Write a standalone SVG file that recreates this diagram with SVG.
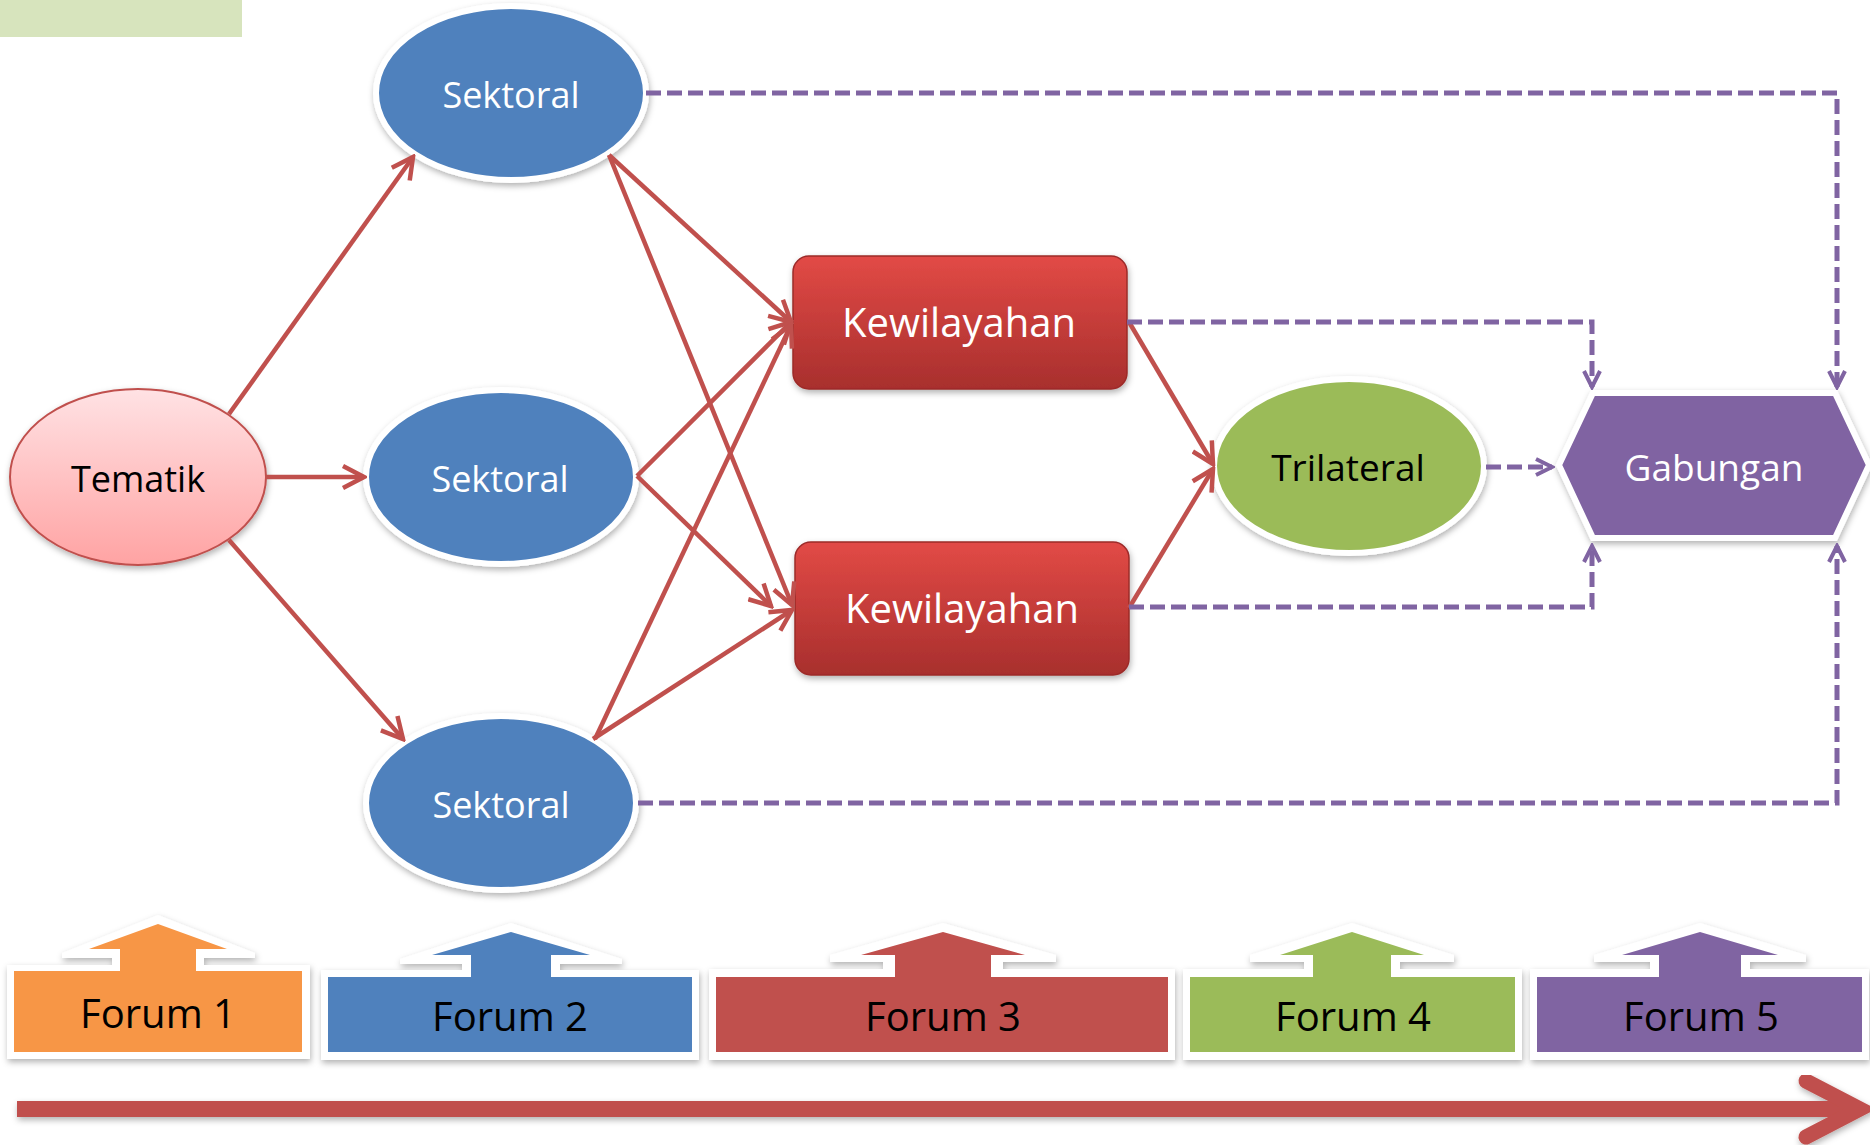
<svg xmlns="http://www.w3.org/2000/svg" width="1870" height="1145" viewBox="0 0 1870 1145">
<style>
.lbl{font-family:"Open Sans","Noto Sans","Liberation Sans",sans-serif;text-anchor:middle}
.w{fill:#ffffff}
.k{fill:#000000}
.red{fill:none;stroke:#c0504d;stroke-width:4.5;marker-end:url(#ar)}
.pur{fill:none;stroke:#8064a2;stroke-width:5;stroke-dasharray:15 6;marker-end:url(#ap)}
.sek{fill:#4f81bd;stroke:#ffffff;stroke-width:6;filter:url(#sh)}
.outline{fill:#ffffff;filter:url(#sh)}
</style>
<defs>
<filter id="sh" x="-10%" y="-10%" width="120%" height="130%">
<feDropShadow dx="1" dy="3" stdDeviation="3" flood-color="#000000" flood-opacity="0.3"/>
</filter>
<linearGradient id="gPink" x1="0" y1="0" x2="0" y2="1">
<stop offset="0" stop-color="#ffe2e4"/>
<stop offset="1" stop-color="#ffa3a3"/>
</linearGradient>
<linearGradient id="gRed" x1="0" y1="0" x2="0" y2="1">
<stop offset="0" stop-color="#e24a46"/>
<stop offset="1" stop-color="#a82f2d"/>
</linearGradient>
<marker id="ar" viewBox="-3 -3 27 27" refX="21" refY="11" markerWidth="27" markerHeight="27" markerUnits="userSpaceOnUse" orient="auto">
<path d="M0,0 L21,11 L0,22" fill="none" stroke="#c0504d" stroke-width="4.5"/>
</marker>
<marker id="ap" viewBox="-3 -3 22 22" refX="16" refY="8" markerWidth="22" markerHeight="22" markerUnits="userSpaceOnUse" orient="auto">
<path d="M0,0 L16,8 L0,16" fill="none" stroke="#8064a2" stroke-width="4"/>
</marker>
</defs>

<rect id="corner" x="0" y="0" width="242" height="37" fill="#d7e4bd"/>

<g id="tematik">
<ellipse cx="138" cy="477" rx="128" ry="88" fill="url(#gPink)" stroke="#c0504d" stroke-width="2" filter="url(#sh)"/>
<text class="lbl k" x="138" y="492" font-size="36">Tematik</text>
</g>

<g id="sektoral1">
<ellipse class="sek" cx="511" cy="93" rx="135" ry="87"/>
<text class="lbl w" x="511" y="108" font-size="36">Sektoral</text>
</g>
<g id="sektoral2">
<ellipse class="sek" cx="501" cy="477" rx="135" ry="87"/>
<text class="lbl w" x="500" y="492" font-size="36">Sektoral</text>
</g>
<g id="sektoral3">
<ellipse class="sek" cx="501" cy="803" rx="135" ry="87"/>
<text class="lbl w" x="501" y="818" font-size="36">Sektoral</text>
</g>

<g id="kewilayahan1">
<rect x="793" y="256" width="334" height="133" rx="16" fill="url(#gRed)" stroke="#9c2b29" stroke-width="1.5" filter="url(#sh)"/>
<text class="lbl w" x="959" y="337" font-size="40">Kewilayahan</text>
</g>
<g id="kewilayahan2">
<rect x="795" y="542" width="334" height="133" rx="16" fill="url(#gRed)" stroke="#9c2b29" stroke-width="1.5" filter="url(#sh)"/>
<text class="lbl w" x="962" y="623" font-size="40">Kewilayahan</text>
</g>

<g id="trilateral">
<ellipse cx="1349" cy="466" rx="135" ry="87" fill="#9bbb59" stroke="#ffffff" stroke-width="6" filter="url(#sh)"/>
<text class="lbl k" x="1348" y="481" font-size="37">Trilateral</text>
</g>

<g id="gabungan">
<polygon points="1559,465 1593,393 1835,393 1869,465 1835,538 1593,538" fill="#8064a2" stroke="#ffffff" stroke-width="6" stroke-linejoin="miter" filter="url(#sh)"/>
<text class="lbl w" x="1714" y="481" font-size="37">Gabungan</text>
</g>

<g id="connectors">
<line class="red" x1="229" y1="414" x2="413" y2="157"/>
<line class="red" x1="266" y1="477" x2="364" y2="477"/>
<line class="red" x1="229" y1="540" x2="403" y2="739"/>
<line class="red" x1="609" y1="155" x2="791" y2="322"/>
<line class="red" x1="609" y1="155" x2="792" y2="605"/>
<line class="red" x1="637" y1="476" x2="791" y2="322"/>
<line class="red" x1="637" y1="476" x2="771" y2="606"/>
<line class="red" x1="595" y1="739" x2="791" y2="325"/>
<line class="red" x1="593" y1="739" x2="792" y2="610"/>
<line class="red" x1="1129" y1="322" x2="1213" y2="464"/>
<line class="red" x1="1129" y1="608" x2="1213" y2="469"/>
<polyline class="pur" points="646,93 1837,93 1837,387"/>
<polyline class="pur" points="1127,322 1592,322 1592,387"/>
<line class="pur" x1="1486" y1="467" x2="1552" y2="467"/>
<polyline class="pur" points="1129,607 1592,607 1592,546"/>
<polyline class="pur" points="638,803 1837,803 1837,546"/>
</g>

<g id="forum1">
<polygon class="outline" points="158,915 255,953 255,958 204,958 204,965 310,965 310,1059 7,1059 7,965 112,965 112,958 62,958 62,953"/>
<polygon fill="#f79646" points="14,971 120,971 120,949 89,949 158,924 227,949 196,949 196,971 302,971 302,1052 14,1052"/>
<text class="lbl k" x="158" y="1028" font-size="40">Forum 1</text>
</g>
<g id="forum2">
<polygon class="outline" points="511,923 622,959 622,964 560,964 560,970 699,970 699,1060 321,1060 321,970 462,970 462,964 400,964 400,959"/>
<polygon fill="#4f81bd" points="328,977 471,977 471,955 432,955 511,932 590,955 551,955 551,977 692,977 692,1052 328,1052"/>
<text class="lbl k" x="510" y="1031" font-size="40">Forum 2</text>
</g>
<g id="forum3">
<polygon class="outline" points="943,923 1056,955 1056,962 1003,962 1003,969 1175,969 1175,1060 709,1060 709,969 883,969 883,962 830,962 830,955"/>
<polygon fill="#c0504d" points="716,977 895,977 895,955 861,955 943,932 1025,955 991,955 991,977 1168,977 1168,1052 716,1052"/>
<text class="lbl k" x="943" y="1031" font-size="40">Forum 3</text>
</g>
<g id="forum4">
<polygon class="outline" points="1352,923 1454,955 1454,962 1400,962 1400,969 1522,969 1522,1060 1183,1060 1183,969 1304,969 1304,962 1250,962 1250,955"/>
<polygon fill="#9bbb59" points="1190,977 1313,977 1313,955 1280,955 1352,932 1424,955 1391,955 1391,977 1515,977 1515,1052 1190,1052"/>
<text class="lbl k" x="1353" y="1031" font-size="40">Forum 4</text>
</g>
<g id="forum5">
<polygon class="outline" points="1700,923 1806,955 1806,962 1750,962 1750,969 1869,969 1869,1060 1530,1060 1530,969 1650,969 1650,962 1594,962 1594,955"/>
<polygon fill="#8064a2" points="1537,977 1659,977 1659,955 1622,955 1700,932 1778,955 1741,955 1741,977 1862,977 1862,1052 1537,1052"/>
<text class="lbl k" x="1701" y="1031" font-size="40">Forum 5</text>
</g>

<g id="timeline" filter="url(#sh)">
<line x1="17" y1="1109" x2="1858" y2="1109" stroke="#c0504d" stroke-width="16"/>
<polyline points="1806,1081 1860,1109 1806,1137" fill="none" stroke="#c0504d" stroke-width="15" stroke-linecap="round" stroke-linejoin="miter"/>
</g>
</svg>
